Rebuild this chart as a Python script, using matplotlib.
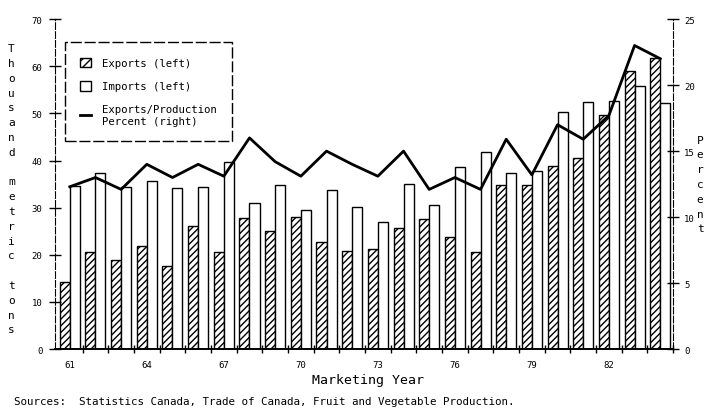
import numpy as np
import matplotlib
matplotlib.use("Agg")
import matplotlib.pyplot as plt
from matplotlib.patches import Patch
from matplotlib.lines import Line2D

plt.rcParams['font.family'] = ['DejaVu Sans Mono']

years = [61, 62, 63, 64, 65, 66, 67, 68, 69, 70, 71, 72,
         73, 74, 75, 76, 77, 78, 79, 80, 81, 82, 83, 84]
exports = [14.3, 20.7, 18.8, 21.9, 17.7, 26.1, 20.6, 27.9, 25.1, 28.0, 22.7, 20.8,
           21.3, 25.6, 27.5, 23.8, 20.6, 34.8, 34.8, 38.8, 40.6, 49.6, 58.9, 61.8]
imports = [34.6, 37.3, 34.4, 35.7, 34.1, 34.4, 39.7, 31.1, 34.9, 29.6, 33.8, 30.1,
           26.9, 35.1, 30.5, 38.7, 41.9, 37.3, 37.8, 50.3, 52.4, 52.7, 55.8, 52.1]
percent = [12.3, 13.0, 12.1, 14.0, 13.0, 14.0, 13.1, 16.0, 14.2, 13.1, 15.0, 14.0,
           13.1, 15.0, 12.1, 13.0, 12.1, 15.9, 13.2, 17.0, 15.9, 17.7, 23.0, 22.0]
year_labels = [61, 64, 67, 70, 73, 76, 79, 82]

x = np.array(years)
w = 0.39

fig = plt.figure(figsize=(7.13, 4.10), dpi=100)
ax = fig.add_axes([0.077, 0.146, 0.867, 0.805])
ax2 = ax.twinx()

ax.bar(x - w / 2, exports, width=w, facecolor='white', edgecolor='black',
       linewidth=1.0, hatch='/////')
ax.bar(x + w / 2, imports, width=w, facecolor='white', edgecolor='black',
       linewidth=1.0)
ax2.plot(x, percent, color='black', linewidth=2.0)

ax.set_xlim(60.42, 84.4)
ax.set_ylim(0, 70)
ax2.set_ylim(0, 25)

# spines
for a in (ax, ax2):
    a.spines['top'].set_visible(False)
ax.spines['right'].set_visible(False)
ax2.spines['left'].set_visible(False)
ax2.spines['bottom'].set_visible(False)
ax.spines['left'].set_linestyle((0, (6, 2)))
ax2.spines['right'].set_linestyle((0, (6, 2)))
ax.spines['bottom'].set_linewidth(1.4)

# ticks
ax.set_yticks(range(0, 71, 10))
ax2.set_yticks(range(0, 26, 5))
ax.tick_params(axis='y', direction='inout', length=8, width=1, labelsize=6.5, pad=5)
ax2.tick_params(axis='y', direction='inout', length=8, width=1, labelsize=6.5, pad=4)
ax.set_xticks(year_labels)
ax.set_xticklabels([str(y) for y in year_labels])
ax.set_xticks(x + 0.5, minor=True)
ax.tick_params(axis='x', which='major', length=0, labelsize=6.5, pad=8)
ax.tick_params(axis='x', which='minor', direction='inout', length=6, width=1)

# legend
handles = [Patch(facecolor='white', edgecolor='black', hatch='////', linewidth=1),
           Patch(facecolor='white', edgecolor='black', linewidth=1),
           Line2D([0], [0], color='black', linewidth=2)]
labels = ['Exports (left)', 'Imports (left)', 'Exports/Production\nPercent (right)']
leg = ax2.legend(handles, labels, loc='upper left', bbox_to_anchor=(0.016, 0.93),
                 borderaxespad=0, fancybox=False, fontsize=7.7, handlelength=1.0,
                 handleheight=1.0, handletextpad=1.0, labelspacing=1.2,
                 borderpad=1.45)
frame = leg.get_frame()
frame.set_edgecolor('black')
frame.set_linewidth(1.0)
frame.set_linestyle((0, (8, 2)))
frame.set_alpha(1)

# axis titles
fig.text(0.016, 0.537, '\n'.join('Thousand metric tons'), ha='center', va='center',
         fontsize=8, linespacing=1.6)
fig.text(0.982, 0.549, '\n'.join('Percent'), ha='center', va='center',
         fontsize=8, linespacing=1.6)
fig.text(0.516, 0.073, 'Marketing Year', ha='center', va='center', fontsize=9.5)
fig.text(0.02, 0.02, 'Sources:  Statistics Canada, Trade of Canada, Fruit and Vegetable Production.',
         ha='left', va='center', fontsize=7.8)

fig.savefig('out.png', dpi=100)
